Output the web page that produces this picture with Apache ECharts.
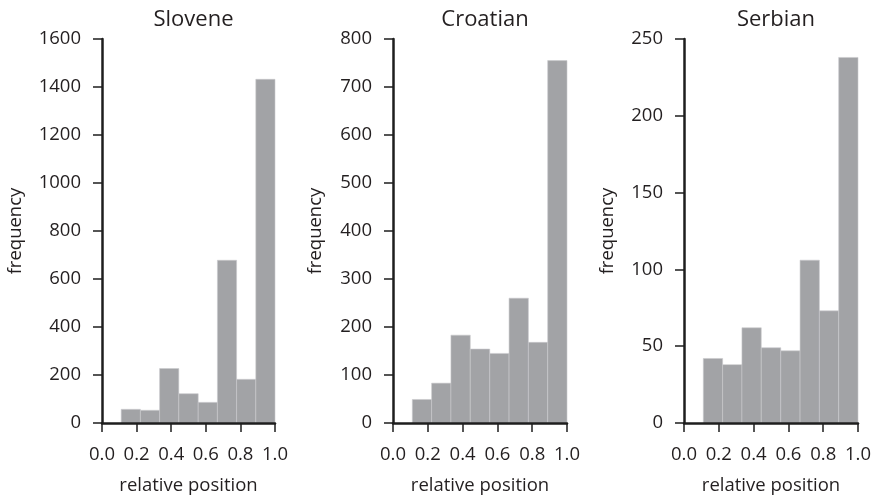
<!DOCTYPE html>
<html>
<head>
<meta charset="utf-8">
<script src="https://cdn.jsdelivr.net/npm/echarts@6/dist/echarts.min.js"></script>
<style>
html,body{margin:0;padding:0;background:#fff;}
#chart{width:874px;height:497px;}
</style>
</head>
<body>
<div id="chart"></div>
<script>
// Bin edges (relative position), 9 equal bins from 0 to 1
var binEdges = [0, 0.111, 0.222, 0.333, 0.444, 0.556, 0.667, 0.778, 0.889, 1.0];

var languages = ['Slovene', 'Croatian', 'Serbian'];

// Frequencies per bin
var sloveneValues  = [0, 57, 53, 227, 122, 86, 678, 182, 1432];
var croatianValues = [0, 49, 83, 183, 154, 145, 260, 168, 755];
var serbianValues  = [0, 42, 38, 62, 49, 47, 106, 73, 238];

// y-axis ranges
var yMax = [1600, 800, 250];
var yInterval = [200, 100, 50];

var allValues = [sloveneValues, croatianValues, serbianValues];

var FONT = '"Open Sans", "Noto Sans", sans-serif';
var TXT = '#231f20';
var AX = '#1e1e1e';
var BAR = '#a2a3a6';

var gridLeft = [102, 393, 684];
var gridWidth = [173, 174, 174];
var nameGaps = [77, 68, 67];

function toData(vals) {
  var d = [];
  for (var i = 0; i < vals.length; i++) {
    d.push([binEdges[i], binEdges[i + 1], vals[i]]);
  }
  return d;
}

function renderItem(params, api) {
  var x0 = api.value(0), x1 = api.value(1), v = api.value(2);
  if (!v) return null;
  var p0 = api.coord([x0, 0]);
  var p1 = api.coord([x1, v]);
  return {
    type: 'rect',
    shape: { x: p0[0], y: p1[1], width: p1[0] - p0[0], height: p0[1] - p1[1] },
    style: { fill: BAR, stroke: '#c9cacc', lineWidth: 0.6 }
  };
}

var grids = [], xAxes = [], yAxes = [], series = [], titles = [];
for (var k = 0; k < 3; k++) {
  grids.push({ left: gridLeft[k], width: gridWidth[k], top: 39, height: 384,
    containLabel: false, outerBoundsMode: 'none' });
  titles.push({
    text: languages[k],
    left: gridLeft[k] + gridWidth[k] / 2,
    top: 4,
    textAlign: 'center',
    textStyle: { fontFamily: FONT, fontSize: 22, fontWeight: 'normal', color: TXT }
  });
  xAxes.push({
    gridIndex: k, type: 'value', min: 0, max: 1, interval: 0.2, z: 5,
    name: 'relative position', nameLocation: 'middle', nameGap: 53,
    nameTextStyle: { fontFamily: FONT, fontSize: 18.5, color: TXT },
    axisLine: { show: true, lineStyle: { color: AX, width: 2.5 } },
    axisTick: { show: true, length: 9, inside: false, lineStyle: { color: AX, width: 1.5 } },
    axisLabel: { fontFamily: FONT, fontSize: 18.5, color: TXT, margin: 22,
      formatter: function (v) { return v.toFixed(1); } },
    splitLine: { show: false }
  });
  yAxes.push({
    gridIndex: k, type: 'value', min: 0, max: yMax[k], interval: yInterval[k], z: 5,
    name: 'frequency', nameLocation: 'middle', nameGap: nameGaps[k], nameRotate: 90,
    nameTextStyle: { fontFamily: FONT, fontSize: 18.5, color: TXT },
    axisLine: { show: true, onZero: false, lineStyle: { color: AX, width: 2.5 } },
    axisTick: { show: true, length: 9, inside: false, lineStyle: { color: AX, width: 1.5 } },
    axisLabel: { fontFamily: FONT, fontSize: 18.5, color: TXT, margin: 21,
      formatter: function (v) { return String(v); } },
    splitLine: { show: false }
  });
  series.push({
    type: 'custom', xAxisIndex: k, yAxisIndex: k,
    renderItem: renderItem,
    encode: { x: [0, 1], y: 2 },
    data: toData(allValues[k]),
    z: 1
  });
}

var chart = echarts.init(document.getElementById('chart'), null, { renderer: 'canvas' });
chart.setOption({
  animation: false,
  backgroundColor: '#fff',
  title: titles,
  grid: grids,
  xAxis: xAxes,
  yAxis: yAxes,
  series: series
});
</script>
</body>
</html>
